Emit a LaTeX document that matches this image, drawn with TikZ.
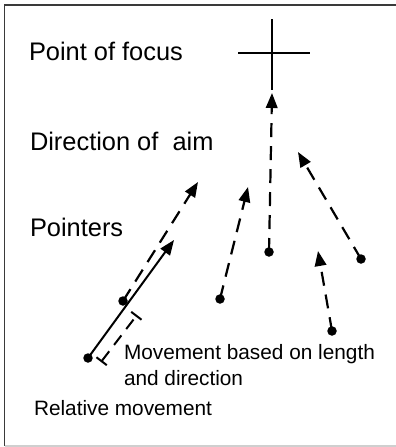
\documentclass[tikz,border=0pt]{standalone}
\usepackage{fontspec}
\setmainfont{Liberation Sans}
\usepackage{xcolor}
\usepackage{tikz}
\usetikzlibrary{arrows.meta, positioning}
\definecolor{framedark}{HTML}{3A3A3A}
\definecolor{framelight}{HTML}{CFCFCF}

\begin{document}
\begin{tikzpicture}[
  x=1pt, y=-1pt,
  every node/.style={inner sep=0pt, outer sep=0pt},
  biglabel/.style={
    anchor=base west,
    font=\fontsize{25.4}{30}\selectfont,
  },
  smalllabel/.style={
    anchor=base west, align=left,
    font=\fontsize{20.8}{26}\selectfont,
  },
  pointer/.style={
    circle, fill=black, minimum size=9.5pt,
  },
  aim/.style={-{Triangle[length=15pt, width=11.5pt]}, line width=2.2pt, dash pattern=on 14pt off 9pt},
  move/.style={-{Triangle[length=15pt, width=11.5pt]}, line width=2pt},
  span/.style={{Bar[width=13pt]}-{Bar[width=13pt]}, line width=2pt, dash pattern=on 12pt off 8pt},
]

\useasboundingbox (0,0) rectangle (396,447);
\fill[white] (0,0) rectangle (396,447);

% frame
\draw[framedark, line width=1.4pt] (396,5) -- (4.5,5) -- (4.5,446);
\draw[framelight, line width=1.2pt] (4.5,446) -- (396,446);

% labels
\node[biglabel]   (focuslbl) at (29,60)  {Point of focus};
\node[biglabel]   (aimlbl)   at (30,150) {Direction of\ \ aim};
\node[biglabel]   (ptrlbl)   at (30,236) {Pointers};
\node[smalllabel] (movelbl)  at (124,385) {Movement based on length\\and direction};
\node[smalllabel] (rellbl)   at (34,415) {Relative movement};

% point of focus
\coordinate (focus) at (272,53);
\draw[line width=2.2pt] (272,19) -- (272,90);
\draw[line width=2.2pt] (238,53) -- (310,53);

% pointers
\node[pointer] (p0) at (88,358)  {};
\node[pointer] (p1) at (123,301) {};
\node[pointer] (p2) at (220,299) {};
\node[pointer] (p3) at (269,252) {};
\node[pointer] (p4) at (361,259) {};
\node[pointer] (p5) at (332,331) {};

% arrow tips
\coordinate (t0) at (174,240);
\coordinate (t1) at (198,182);
\coordinate (t2) at (248,187);
\coordinate (t3) at (272,93);
\coordinate (t4) at (298,152);
\coordinate (t5) at (318,251);

% direction of aim
\draw[aim] (p1.center) -- (t1);
\draw[aim] (p2.center) -- (t2);
\draw[aim] (p3.center) -- (t3);
\draw[aim] (p4.center) -- (t4);
\draw[aim] (p5.center) -- (t5);

% relative movement
\draw[move] (p0.center) -- (t0);
\coordinate (s0) at (101,362);
\coordinate (s1) at (137,315);
\draw[span] (s0) -- (s1);

\end{tikzpicture}
\end{document}
